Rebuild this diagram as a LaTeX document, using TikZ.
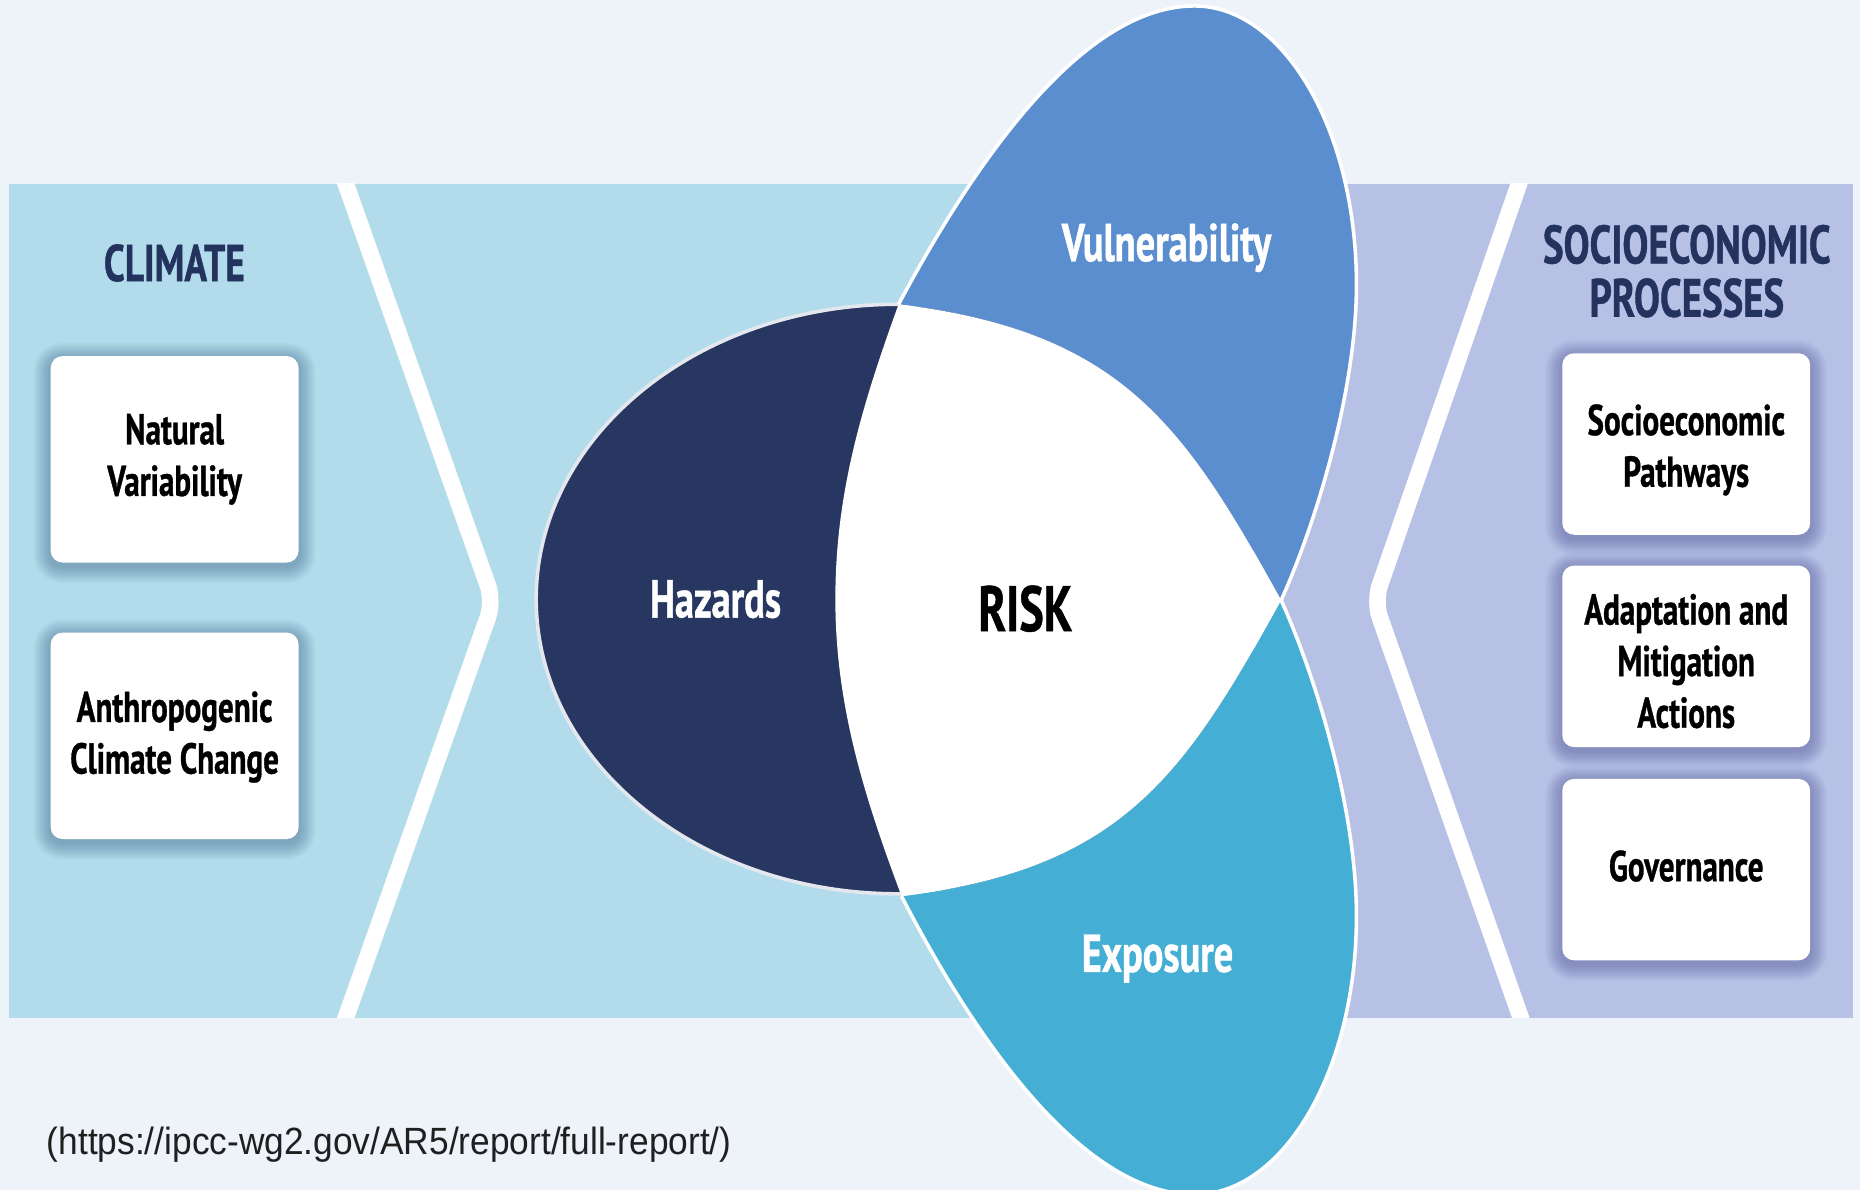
\documentclass[tikz,border=0pt]{standalone}
\usepackage{fontspec}
\newfontfamily\condf{PT Sans}[FakeStretch=0.72, FakeBold=0.8]
\newfontfamily\urlf{Liberation Sans}[FakeStretch=0.93]
\definecolor{bgc}{HTML}{EEF3FA}
\definecolor{bandL}{HTML}{B2DCEB}
\definecolor{bandR}{HTML}{B7C1E6}
\definecolor{hazc}{HTML}{283761}
\definecolor{vulc}{HTML}{5B8ECE}
\definecolor{expc}{HTML}{44AED4}
\definecolor{navyt}{HTML}{23335E}
\definecolor{hazline}{HTML}{E4E8EE}
\definecolor{shadL}{HTML}{2F5580}
\definecolor{shadR}{HTML}{3C4288}
\pgfdeclarelayer{bg}
\pgfdeclarelayer{shadw}
\pgfsetlayers{bg,shadw,main}
\newcommand\boxshade[2]{%
  \begin{pgfonlayer}{shadw}
  \foreach \k in {1,...,14}{%
    \pgfmathsetmacro\rr{10+\k}
    \fill[#2, opacity=0.032, rounded corners=\rr pt]
      ([xshift=-\k pt, yshift=-3pt-\k pt]#1.south west) rectangle ([xshift=\k pt, yshift=-3pt+\k pt]#1.north east);
  }
  \end{pgfonlayer}}
\begin{document}
\begin{tikzpicture}[x=1pt,y=-1pt,
  boxst/.style={fill=white, rounded corners=10pt, minimum width=209pt, inner sep=0pt},
  boxtxt/.style={align=center, inner sep=0pt, font=\condf\bfseries\fontsize{36.4}{43.5}\selectfont, text=black},
  head/.style={font=\condf\bfseries\fontsize{43.7}{45}\selectfont, text=navyt, align=center, inner sep=0pt},
  petal/.style={font=\condf\bfseries\fontsize{45}{50}\selectfont, text=white, inner sep=0pt},
  chev/.style={draw=white, line width=14pt, rounded corners=14pt},
  rim/.style={draw=white, line width=3pt}
]
\useasboundingbox (0,0) rectangle (1568,1003);
\clip (0,0) rectangle (1568,1003);
\begin{pgfonlayer}{bg}
\fill[bgc] (0,0) rectangle (1568,1003);
\fill[bandL] (8,155) rectangle (1000,858);
\fill[bandR] (1000,155) rectangle (1562,858);
\end{pgfonlayer}
% chevrons
\begin{scope}
\clip (8,155) rectangle (1562,858);
\draw[chev] (286.2,140) -- (416,507) -- (286.2,873);
\draw[chev] (1285.7,140) -- (1158.5,507) -- (1287.3,873);
\end{scope}
% boxes
\node[boxst, minimum height=174pt] (nv) at (147.2,387.2) {};
\node[boxst, minimum height=174pt] (ac) at (147.2,620.3) {};
\node[boxst, minimum height=153pt] (sp) at (1421.5,374.3) {};
\node[boxst, minimum height=153pt] (am) at (1421.5,553.3) {};
\node[boxst, minimum height=153pt] (gv) at (1421.5,733.1) {};
\boxshade{nv}{shadL}
\boxshade{ac}{shadL}
\boxshade{sp}{shadR}
\boxshade{am}{shadR}
\boxshade{gv}{shadR}
\node[boxtxt] (nvt) at (nv.center) {Natural\\Variability};
\node[boxtxt] (act) at ([yshift=-1pt]ac.center) {Anthropogenic\\Climate Change};
\node[boxtxt] (spt) at ([yshift=-5pt]sp.center) {Socioeconomic\\Pathways};
\node[boxtxt] (amt) at ([yshift=-4pt]am.center) {Adaptation and\\Mitigation\\Actions};
\node[boxtxt] (gvt) at ([yshift=3pt]gv.center) {Governance};
% headers
\node[head, anchor=base] (clim) at (147,237) {CLIMATE};
\node[head, font=\condf\bfseries\fontsize{45.5}{45}\selectfont] (socio) at (1422,228.6) {SOCIOECONOMIC\\PROCESSES};
% hazards
\draw[fill=hazc, draw=hazline, line width=3pt] (757,505) ellipse [x radius=305pt, y radius=248.5pt];
% key points
\coordinate (J1) at (757.5,256.5);
\coordinate (J2) at (760,755.5);
\coordinate (T) at (1080,506);
\coordinate (L) at (704.2,505);
% vulnerability petal
\fill[vulc] (J1) .. controls (828,124.5) and (917,5) .. (1007,5) .. controls (1082,5) and (1143.5,110) .. (1143.5,240) .. controls (1143.5,330) and (1109,442) .. (T)
  .. controls (998.1,358) and (945.5,279.3) .. (J1) -- cycle;
\draw[rim] (J1) .. controls (828,124.5) and (917,5) .. (1007,5) .. controls (1082,5) and (1143.5,110) .. (1143.5,240) .. controls (1143.5,330) and (1109,442) .. (T);
% exposure petal
\fill[expc] (J2) .. controls (828,887.5) and (917,1007) .. (1007,1007) .. controls (1082,1007) and (1143.5,902) .. (1143.5,772) .. controls (1143.5,682) and (1109,570) .. (T)
  .. controls (998.1,654) and (946,732.7) .. (J2) -- cycle;
\draw[rim] (J2) .. controls (828,887.5) and (917,1007) .. (1007,1007) .. controls (1082,1007) and (1143.5,902) .. (1143.5,772) .. controls (1143.5,682) and (1109,570) .. (T);
% risk (white core)
\fill[white] (J1) .. controls (945.5,279.3) and (998.1,358) .. (T)
  .. controls (998.1,654) and (946,732.7) .. (J2)
  .. controls (728.7,671.9) and (704.2,595) .. (L)
  .. controls (704.2,415) and (726.9,341.1) .. (J1) -- cycle;
% labels
\node[petal, anchor=base] (vul) at (983.4,220.2) {Vulnerability};
\node[petal, anchor=base] (haz) at (603.2,520.6) {Hazards};
\node[petal, anchor=base] (exp) at (975.8,819.3) {Exposure};
\node[anchor=base, inner sep=0pt, font=\condf\bfseries\fontsize{54}{60}\selectfont] (risk) at (864.4,532) {RISK};
% source
\node[anchor=base west, inner sep=0pt, font=\urlf\fontsize{32}{36}\selectfont, text=black!88] (src) at (39.3,973.3) {(https://ipcc-wg2.gov/AR5/report/full-report/)};
\end{tikzpicture}
\end{document}
